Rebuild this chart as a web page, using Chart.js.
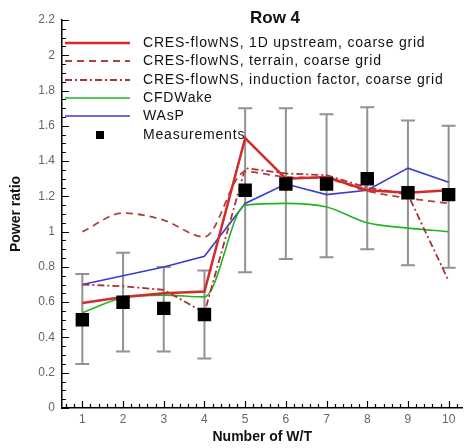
<!DOCTYPE html>
<html>
<head>
<meta charset="utf-8">
<script src="https://cdn.jsdelivr.net/npm/chart.js@4/dist/chart.umd.min.js"></script>
<style>
  html, body { margin: 0; padding: 0; background: #fff; }
</style>
</head>
<body>
<canvas id="chart" width="472" height="448"></canvas>
<script>
const turbines = [1, 2, 3, 4, 5, 6, 7, 8, 9, 10];
const yTickValues = [0, 0.2, 0.4, 0.6, 0.8, 1, 1.2, 1.4, 1.6, 1.8, 2, 2.2];

const upstream1D = [0.595, 0.63, 0.65, 0.66, 1.53, 1.30, 1.31, 1.235, 1.22, 1.235];
const terrain = [1.00, 1.105, 1.065, 0.97, 1.34, 1.31, 1.30, 1.23, 1.19, 1.16];
const induction = [0.70, 0.69, 0.67, 0.54, 1.36, 1.33, 1.32, 1.25, 1.21, 0.72];
const cfdWake = [0.54, 0.625, 0.64, 0.63, 1.15, 1.16, 1.14, 1.05, 1.02, 1.00];
const wasp = [0.70, 0.75, 0.80, 0.86, 1.16, 1.27, 1.21, 1.235, 1.36, 1.28];
const measured = [0.50, 0.60, 0.565, 0.53, 1.235, 1.27, 1.27, 1.30, 1.22, 1.21];
const measuredLow = [0.25, 0.32, 0.32, 0.28, 0.77, 0.845, 0.855, 0.90, 0.81, 0.795];
const measuredHigh = [0.76, 0.88, 0.80, 0.78, 1.70, 1.70, 1.665, 1.705, 1.63, 1.60];

const FONT = '"Liberation Sans", Arial, sans-serif';

const points = (values) => turbines.map((x, i) => ({ x, y: values[i] }));

const lineSet = (label, values, color, width, dash, smooth) => ({
  label,
  data: points(values),
  borderColor: color,
  backgroundColor: color,
  borderWidth: width,
  borderDash: dash,
  pointRadius: 0,
  tension: smooth ? 0.4 : 0,
  cubicInterpolationMode: smooth ? 'monotone' : 'default',
  order: 1
});

const datasets = [
  lineSet('CRES-flowNS, 1D upstream, coarse grid', upstream1D, '#d42a2a', 2.5, [], false),
  lineSet('CRES-flowNS, terrain, coarse grid', terrain, '#b04040', 1.8, [7, 5], true),
  lineSet('CRES-flowNS, induction factor, coarse grid', induction, '#b03030', 1.8, [7, 3, 2, 3], false),
  lineSet('CFDWake', cfdWake, '#22b422', 1.6, [], true),
  lineSet('WAsP', wasp, '#3b3bd0', 1.6, [], false),
  {
    label: 'Measurements',
    data: points(measured),
    showLine: false,
    pointStyle: 'rect',
    pointRadius: 9.5,
    pointBackgroundColor: '#000',
    pointBorderColor: '#000',
    pointBorderWidth: 0,
    order: 0
  }
];

// error bars, tick marks, title and legend drawn on the canvas
const decorations = {
  id: 'decorations',
  beforeDatasetsDraw(chart) {
    const { ctx, scales: { x, y } } = chart;
    ctx.save();
    ctx.strokeStyle = '#929292';
    ctx.lineWidth = 2;
    turbines.forEach((t, i) => {
      const px = x.getPixelForValue(t);
      const top = y.getPixelForValue(measuredHigh[i]);
      const bottom = y.getPixelForValue(measuredLow[i]);
      ctx.beginPath();
      ctx.moveTo(px, top);
      ctx.lineTo(px, bottom);
      ctx.moveTo(px - 7, top);
      ctx.lineTo(px + 7, top);
      ctx.moveTo(px - 7, bottom);
      ctx.lineTo(px + 7, bottom);
      ctx.stroke();
    });
    ctx.restore();
  },
  afterDraw(chart) {
    const { ctx, chartArea, scales: { x, y } } = chart;
    ctx.save();

    // tick marks pointing inward
    ctx.strokeStyle = '#000';
    ctx.lineWidth = 1.2;
    ctx.beginPath();
    for (let v = 0; v <= 2.2001; v += 0.05) {
      const py = Math.round(y.getPixelForValue(v)) + 0.5;
      const major = Math.abs(v / 0.2 - Math.round(v / 0.2)) < 0.01;
      ctx.moveTo(chartArea.left, py);
      ctx.lineTo(chartArea.left + (major ? 7 : 4), py);
    }
    for (let v = 0.6; v <= 10.3; v += 0.2) {
      const px = Math.round(x.getPixelForValue(v)) + 0.5;
      const major = Math.abs(v - Math.round(v)) < 0.01;
      ctx.moveTo(px, chartArea.bottom);
      ctx.lineTo(px, chartArea.bottom - (major ? 7 : 4));
    }
    ctx.stroke();

    // title
    ctx.fillStyle = '#111';
    ctx.font = 'bold 17px ' + FONT;
    ctx.textAlign = 'center';
    ctx.textBaseline = 'middle';
    ctx.fillText('Row 4', 275, 18);

    // legend
    const rows = [43, 61, 80, 98, 116, 135];
    ctx.font = '14px ' + FONT;
    ctx.letterSpacing = '0.8px';
    ctx.textAlign = 'left';
    datasets.forEach((ds, i) => {
      const ly = rows[i];
      if (ds.showLine === false) {
        ctx.fillStyle = '#000';
        ctx.fillRect(96, ly - 4, 8, 8);
      } else {
        ctx.strokeStyle = ds.borderColor;
        ctx.lineWidth = ds.borderWidth;
        ctx.setLineDash(ds.borderDash);
        ctx.beginPath();
        ctx.moveTo(65, ly);
        ctx.lineTo(130, ly);
        ctx.stroke();
        ctx.setLineDash([]);
      }
      ctx.fillStyle = '#111';
      ctx.fillText(ds.label, 143, ly);
    });
    ctx.restore();
  }
};

new Chart(document.getElementById('chart'), {
  type: 'line',
  data: { datasets },
  options: {
    responsive: false,
    animation: false,
    devicePixelRatio: 1,
    layout: { padding: { top: 20, right: 0, bottom: 0, left: 0 } },
    plugins: {
      legend: { display: false },
      tooltip: { enabled: false }
    },
    scales: {
      x: {
        type: 'linear',
        min: 0.5,
        max: 10.34,
        afterBuildTicks: (s) => { s.ticks = turbines.map((v) => ({ value: v })); },
        afterFit: (s) => { s.height = 40; },
        grid: { display: false, drawTicks: false },
        border: { color: '#000', width: 1.5 },
        ticks: { color: '#666', padding: 4, font: { family: FONT, size: 12 } },
        title: {
          display: true,
          text: 'Number of W/T',
          color: '#111',
          font: { family: FONT, size: 14, weight: 'bold' },
          padding: { top: 0, bottom: 2 }
        }
      },
      y: {
        min: 0,
        max: 2.2,
        afterBuildTicks: (s) => { s.ticks = yTickValues.map((v) => ({ value: v })); },
        afterFit: (s) => { s.width = 62; },
        grid: { display: false, drawTicks: false },
        border: { color: '#000', width: 1.5 },
        ticks: {
          color: '#666',
          padding: 7,
          font: { family: FONT, size: 12 },
          callback: (v) => String(+v.toFixed(1))
        },
        title: {
          display: true,
          text: 'Power ratio',
          color: '#111',
          font: { family: FONT, size: 14, weight: 'bold' },
          padding: { top: 8, bottom: 0 }
        }
      }
    }
  },
  plugins: [decorations]
});
</script>
</body>
</html>
